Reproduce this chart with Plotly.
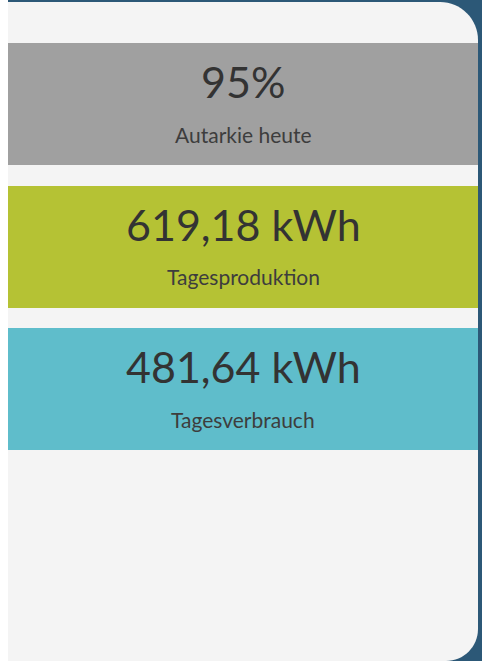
import plotly.graph_objects as go

# Data
values = ["95%", "619,18 kWh", "481,64 kWh"]
labels = ["Autarkie heute", "Tagesproduktion", "Tagesverbrauch"]
colors = ["#a0a0a0", "#b5c234", "#5fbdcb"]
positions = [0, 1, 2]

W, H = 482, 661
FONT = "Lato"

fig = go.Figure()
fig.add_trace(go.Bar(
    y=positions, x=[1, 1, 1], orientation="h", base=0,
    marker=dict(color=colors, line=dict(width=0)),
    width=122 / 142.5, hoverinfo="skip", showlegend=False,
))

for p, v, l in zip(positions, values, labels):
    fig.add_annotation(x=0.5, y=p, xref="x", yref="y", text=v, showarrow=False,
                       font=dict(family=FONT, size=43, color="#333333"),
                       yshift=22.5, xanchor="center", yanchor="middle")
    fig.add_annotation(x=0.5, y=p, xref="x", yref="y", text=l, showarrow=False,
                       font=dict(family=FONT, size=21, color="#3d3d3d"),
                       yshift=-30, xanchor="center", yanchor="middle")

# Background decoration: blue frame and rounded panel (circular corners)
x0, x1, y0, y1 = 8, 478, 2, 661
rt, rb = 38, 32
k = 0.5523
def px(x):
    return x / W
def py(y):
    return 1 - y / H
path = (f"M {px(x0)},{py(y0)} L {px(x1-rt)},{py(y0)} "
        f"C {px(x1-rt+k*rt)},{py(y0)} {px(x1)},{py(y0+rt-k*rt)} {px(x1)},{py(y0+rt)} "
        f"L {px(x1)},{py(y1-rb)} "
        f"C {px(x1)},{py(y1-rb+k*rb)} {px(x1-rb+k*rb)},{py(y1)} {px(x1-rb)},{py(y1)} "
        f"L {px(x0)},{py(y1)} Z")
fig.add_shape(type="rect", xref="paper", yref="paper", x0=px(8), x1=1, y0=0, y1=1,
              fillcolor="#2c5877", line=dict(width=0), layer="below")
fig.add_shape(type="path", xref="paper", yref="paper", path=path,
              fillcolor="#f4f4f4", line=dict(width=0), layer="below")

fig.update_layout(
    width=W, height=H, margin=dict(l=0, r=0, t=0, b=0),
    paper_bgcolor="#ffffff", plot_bgcolor="rgba(0,0,0,0)",
    xaxis=dict(range=[0, 1], domain=[px(x0), px(x1)], visible=False, fixedrange=True),
    yaxis=dict(range=[(661 - 104) / 142.5, -104 / 142.5], domain=[0, 1],
               visible=False, fixedrange=True),
    bargap=0,
)

fig.write_html("out.html", config={"displayModeBar": False},
               post_script="document.body.style.margin='0';document.body.style.overflow='hidden';")
